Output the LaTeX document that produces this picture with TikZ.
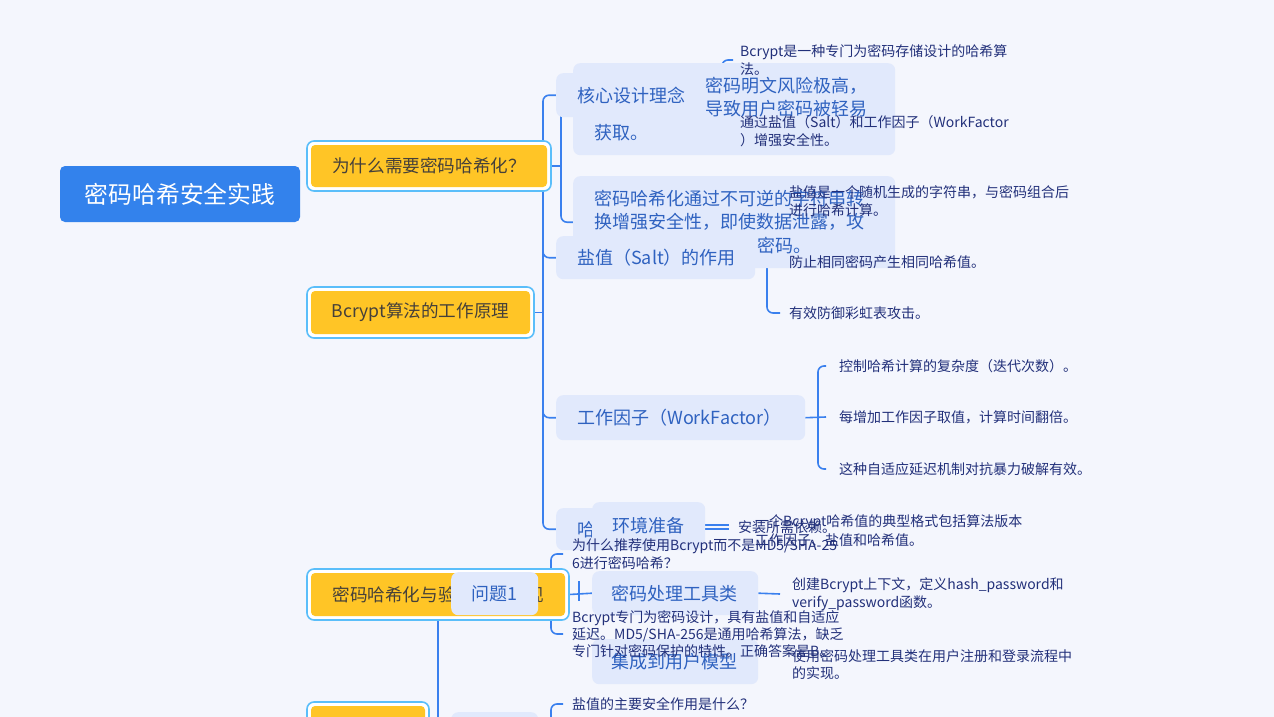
\documentclass[tikz,border=0pt]{standalone}
\usepackage{fontspec}
\setmainfont{Noto Sans CJK SC}
\usetikzlibrary{backgrounds}
\definecolor{bgc}{HTML}{F4F6FD}
\definecolor{rootc}{HTML}{3382EC}
\definecolor{yel}{HTML}{FFC526}
\definecolor{ytext}{HTML}{45403A}
\definecolor{outl}{HTML}{5ABEFA}
\definecolor{cfill}{HTML}{E1E9FC}
\definecolor{cblue}{HTML}{2F62C0}
\definecolor{leafc}{HTML}{22307A}
\definecolor{lineblue}{HTML}{3A80EE}
\newcommand\fsz[2]{\fontsize{#1}{#2}\selectfont}
\begin{document}
\begin{tikzpicture}[x=1pt,y=-1pt,
  conn/.style={draw=lineblue, line width=1.6pt, rounded corners=6pt},
  yout/.style={draw=outl, line width=1.6pt, fill=white, rounded corners=7pt},
  ybox/.style={fill=yel, rounded corners=4pt, text=ytext, font=\fsz{17.6}{21}, inner sep=0pt},
  rootbox/.style={fill=rootc, rounded corners=5pt, text=white, font=\fsz{23.8}{28}, inner sep=0pt, minimum width=240pt, minimum height=56pt},
  cbox/.style={fill=cfill, rounded corners=7pt, inner sep=0pt, anchor=north west},
  cboxt/.style={cbox, inner xsep=21pt, text=cblue, font=\fsz{18}{23}, align=left},
  ctext/.style={text=cblue, font=\fsz{18}{23}, inner sep=0pt, anchor=west, align=left},
  leaf/.style={text=leafc, font=\fsz{14}{18}, inner sep=0pt, anchor=west, align=left}]
\useasboundingbox (0,0) rectangle (1274,717);

\node[rootbox] (root) at (180,194) {密码哈希安全实践};

\draw[yout] (307,141) rectangle (551,191);
\node[ybox, minimum width=236pt, minimum height=42pt] (why) at (429,166) {为什么需要密码哈希化？};
\draw[yout] (307,287) rectangle (534,338);
\node[ybox, minimum width=219pt, minimum height=43pt] (bc) at (420.5,312.5) {Bcrypt算法的工作原理};

% why children
\node[cbox, minimum width=322pt, minimum height=92pt] (whyA) at (573,63) {};
\node[ctext] (wa1) at (705,86) {密码明文风险极高，};
\node[ctext] (wa2) at (705,109) {导致用户密码被轻易};
\node[ctext] (wa3) at (594,133) {获取。};

\node[cboxt, text width=102pt, minimum height=44pt] (core) at (556,73) {核心设计理念};
\node[leaf] (k1) at (740,60) {Bcrypt是一种专门为密码存储设计的哈希算\\法。};
\node[leaf] (k2) at (740,131) {通过盐值（Salt）和工作因子（WorkFactor\\）增强安全性。};

\node[cbox, minimum width=322pt, minimum height=92pt] (whyB) at (573,176) {};
\node[ctext] (wb1) at (594,199) {密码哈希化通过不可逆的字符串转};
\node[ctext] (wb2) at (594,222) {换增强安全性，即使数据泄露，攻};
\node[ctext] (wb3) at (757,246) {密码。};

\node[cboxt, text width=157pt, minimum height=43pt] (salt) at (556,236) {盐值（Salt）的作用};
\node[leaf] (s1) at (789,201) {盐值是一个随机生成的字符串，与密码组合后\\进行哈希计算。};
\node[leaf] (s2) at (789,262) {防止相同密码产生相同哈希值。};
\node[leaf] (s3) at (789,313) {有效防御彩虹表攻击。};

\node[cboxt, text width=207pt, minimum height=45pt] (wf) at (556,395) {工作因子（WorkFactor）};
\node[leaf] (w1) at (839,366) {控制哈希计算的复杂度（迭代次数）。};
\node[leaf] (w2) at (839,417) {每增加工作因子取值，计算时间翻倍。};
\node[leaf] (w3) at (839,469) {这种自适应延迟机制对抗暴力破解有效。};

\node[cboxt, text width=102pt, minimum height=42pt] (fmt) at (556,508) {哈希值格式};
\node[cboxt, inner xsep=20pt, text width=73pt, minimum height=46pt] (env) at (592,502) {环境准备};
\node[leaf] (inst) at (738,527) {安装所需依赖。};
\node[leaf, font=\fsz{14}{19}] (f1) at (755,530.5) {一个Bcrypt哈希值的典型格式包括算法版本\\工作因子、盐值和哈希值。};

\node[cboxt, inner xsep=19pt, text width=128pt, minimum height=44pt] (tool) at (592,571) {密码处理工具类};
\node[cboxt, inner xsep=19pt, text width=128pt, minimum height=45pt] (integ) at (592,639) {集成到用户模型};
\node[leaf] (t1) at (792,594) {创建Bcrypt上下文，定义hash\_password和\\verify\_password函数。};
\node[leaf, font=\fsz{14}{17}] (i1) at (792,664.5) {使用密码处理工具类在用户注册和登录流程中\\的实现。};

\node[leaf] (qa) at (572,554) {为什么推荐使用Bcrypt而不是MD5/SHA-25\\6进行密码哈希？};
\node[leaf, font=\fsz{14}{17}] (qb) at (572,634) {Bcrypt专门为密码设计，具有盐值和自适应\\延迟。MD5/SHA-256是通用哈希算法，缺乏\\专门针对密码保护的特性。正确答案是B。};
\node[leaf] (qc) at (572,704) {盐值的主要安全作用是什么？};

\draw[yout] (307,569) rectangle (569,620);
\node[ybox, minimum width=254pt, minimum height=43pt] (impl) at (438,594.5) {密码哈希化与验证代码实现};
\node[cboxt, inner xsep=20pt, text width=47pt, minimum height=43pt] (q1) at (451,572) {问题1};

\draw[yout] (307,702) rectangle (429,753);
\node[ybox, minimum width=114pt, minimum height=43pt] (prac) at (368,727.5) {};
\node[cboxt, inner xsep=20pt, text width=47pt, minimum height=43pt] (q2) at (451,712) {};

\begin{scope}[on background layer]
\fill[bgc] (0,0) rectangle (1274,717);
\draw[conn] ([xshift=4pt]why.east) -- ++(10,0);
\draw[conn] (whyA.west) -- ++(-12,0) |- (whyB.west);
\draw[conn] ([xshift=4pt]bc.east) -- ++(9,0);
\draw[conn] (core.west) -- ++(-13,0) |- (fmt.west);
\draw[conn] ([shift={(-13pt,10pt)}]salt.west) |- (salt.west);
\draw[conn] ([shift={(-13pt,10pt)}]wf.west) |- (wf.west);
\draw[conn] (core.east) -- ++(22,0);
\draw[conn] ([xshift=-7pt]k1.west) -- ++(-11,0) |- ([xshift=-7pt]k2.west);
\draw[conn] (salt.east) -- ++(12,0);
\draw[conn] ([xshift=-9pt]s1.west) -- ++(-13,0) |- ([xshift=-9pt]s3.west);
\draw[conn] (wf.east) -- ([xshift=-13pt]w2.west);
\draw[conn] ([xshift=-13pt]w1.west) -- ++(-8,0) |- ([xshift=-13pt]w3.west);
\draw[conn] (env.east) -- ++(24,0);
\draw[conn] (fmt.east) -- ++(29,0);
\draw[conn] ([xshift=4pt]impl.east) -- (tool.west);
\draw[conn] (579,581) -- (579,601);
\draw[conn] (tool.east) -- ([xshift=-12pt]t1.west);
\draw[conn] (q1.east) -- ++(13,0);
\draw[conn] ([xshift=-9pt]qa.west) -- ++(-12,0) |- ([xshift=-9pt]qb.west);
\draw[conn] ([xshift=-9pt]qc.west) -- ++(-12,0) -- ++(0,60);
\draw[conn] ([xshift=3pt]prac.east) -- ++(10,0);
\draw[conn] (q1.west) -- ++(-13,0) |- (q2.west);
\end{scope}
\end{tikzpicture}
\end{document}
